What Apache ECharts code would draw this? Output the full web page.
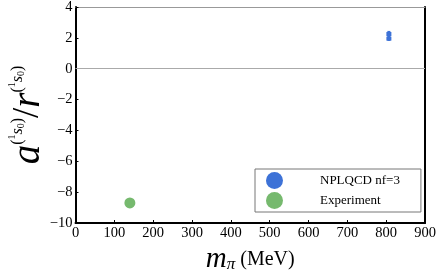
<!DOCTYPE html>
<html><head><meta charset="utf-8">
<script src="https://cdn.jsdelivr.net/npm/echarts@6/dist/echarts.min.js"></script>
<style>html,body{margin:0;padding:0;background:#fff}#c{width:443px;height:277px}</style>
</head><body><div id="c"></div>
<script>
const xTicks = [0,100,200,300,400,500,600,700,800,900];
const yTicks = [-10,-8,-6,-4,-2,0,2,4];
const npX = [807, 807];
const npY = [2.25, 1.95];
const npErr = [0.2, 0.15];
const expX = [140];
const expY = [-8.7];
const names = ['NPLQCD nf=3','Experiment'];
const blue = '#3d72d7', green = '#76b96e';
const serif = 'Liberation Serif';
const chart = echarts.init(document.getElementById('c'));
const npData = npX.map((x,i)=>[x,npY[i],npErr[i]]);
chart.setOption({
  animation:false,
  grid:{left:75.5,right:18,top:7,bottom:54,containLabel:false,outerBoundsMode:'none'},
  xAxis:[{type:'value',min:xTicks[0],max:xTicks[xTicks.length-1],interval:100,
    axisLine:{onZero:false,lineStyle:{color:'#000',width:2}},
    axisTick:{inside:true,length:3,lineStyle:{color:'#000'}},
    axisLabel:{color:'#000',fontFamily:serif,fontSize:14.5,margin:3},
    splitLine:{show:false},
    name:'{m|m}{pi|π}{u| (MeV)}',nameLocation:'middle',nameGap:22,nameMoveOverlap:false,
    nameTextStyle:{rich:{
      m:{fontFamily:serif,fontStyle:'italic',fontSize:29,color:'#000'},
      pi:{fontFamily:serif,fontStyle:'italic',fontSize:17,color:'#000',padding:[10,0,0,0]},
      u:{fontFamily:serif,fontSize:20,color:'#000'}}}},
   {type:'value',position:'top',min:0,max:900,axisLine:{show:true,onZero:false,lineStyle:{color:'#999',width:1}},axisTick:{show:false},axisLabel:{show:false},splitLine:{show:false}}],
  yAxis:[{type:'value',min:yTicks[0],max:yTicks[yTicks.length-1],interval:2,
    axisLine:{onZero:false,lineStyle:{color:'#000',width:2}},
    axisTick:{inside:true,length:3,lineStyle:{color:'#000'}},
    axisLabel:{color:'#000',fontFamily:serif,fontSize:14.5,margin:3,formatter:v=>String(v).replace('-','\u2212')},
    splitLine:{show:false},
    name:'{a|a}{p|(}{one|1}{s|s}{z|0}{p|)}{sl|/}{a|r}{p|(}{one|1}{s|s}{z|0}{p|)}',
    nameLocation:'middle',nameGap:26,nameMoveOverlap:false,
    nameTextStyle:{rich:{
      a:{fontFamily:serif,fontStyle:'italic',fontSize:39,color:'#000'},
      sl:{fontFamily:serif,fontSize:37,color:'#000'},
      p:{fontFamily:serif,fontSize:16,color:'#000',padding:[0,0,22,0]},
      one:{fontFamily:serif,fontSize:10,color:'#000',padding:[0,0,32,0]},
      s:{fontFamily:serif,fontStyle:'italic',fontSize:16,color:'#000',padding:[0,0,22,0]},
      z:{fontFamily:serif,fontSize:10,color:'#000',padding:[0,0,14,0]}}}},
   {type:'value',position:'right',min:-10,max:4,axisLine:{show:true,onZero:false,lineStyle:{color:'#000',width:2}},axisTick:{show:false},axisLabel:{show:false},splitLine:{show:false}}],
  legend:{orient:'vertical',left:255,top:169,
    padding:[3,21,3,11],itemGap:3,itemWidth:17,itemHeight:17,
    borderColor:'#777',borderWidth:1,
    textStyle:{fontFamily:serif,fontSize:13,color:'#000',padding:[0,0,0,32]},
    data:[{name:names[0],icon:'circle',itemStyle:{color:blue}},{name:names[1],icon:'circle',itemStyle:{color:green}}]},
  series:[
    {name:names[0],type:'custom',data:npData,itemStyle:{color:blue},
      renderItem:(params,api)=>{
        const x=api.value(0),y=api.value(1),e=api.value(2);
        const p1=api.coord([x,y+e]),p2=api.coord([x,y-e]);
        const c=api.coord([x,y]);
        return {type:'group',children:[
          {type:'rect',shape:{x:p1[0]-1.5,y:p1[1],width:3,height:p2[1]-p1[1]},style:{fill:blue}},
          {type:'rect',shape:{x:c[0]-2.5,y:c[1]-2,width:5,height:4},style:{fill:blue}}]};
      },
      markLine:{silent:true,symbol:'none',label:{show:false},lineStyle:{color:'#aaa',width:1,type:'solid'},data:[{yAxis:0}]}},
    {name:names[1],type:'scatter',data:expX.map((x,i)=>[x,expY[i]]),symbol:'circle',symbolSize:11,itemStyle:{color:green,opacity:1}}
  ]
});
</script></body></html>
